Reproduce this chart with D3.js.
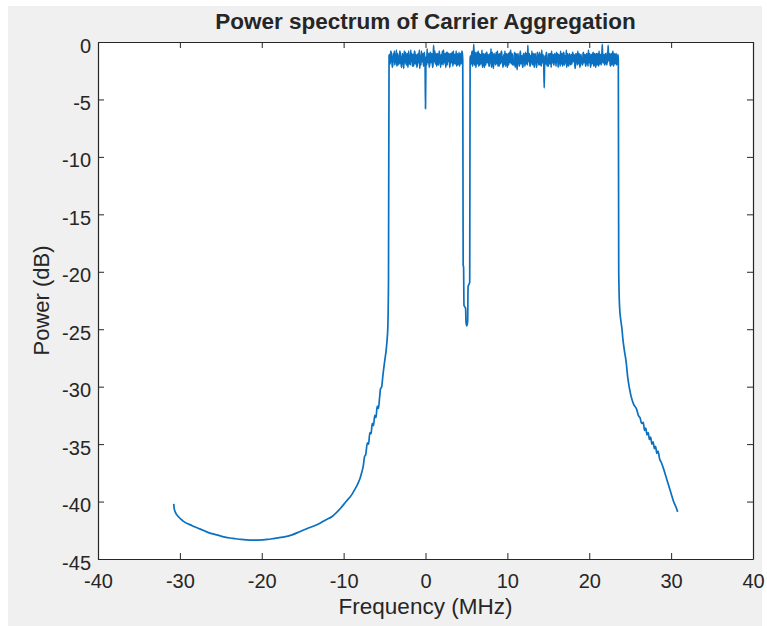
<!DOCTYPE html>
<html lang="en">
<head>
<meta charset="UTF-8">
<title>Power spectrum of Carrier Aggregation</title>
<script src="https://cdn.jsdelivr.net/npm/d3@7"></script>
<style>
  body { margin: 0; background: #fff; }
  text { font-family: "Liberation Sans", Arial, sans-serif; fill: #262626; }
</style>
</head>
<body>
<div id="chart"></div>
<script>
// --- data ---
const xTicks = [-40, -30, -20, -10, 0, 10, 20, 30, 40];
const yTicks = [0, -5, -10, -15, -20, -25, -30, -35, -40, -45];

// lower skirt left of the carriers (MHz, dB)
const leftF = [-30.75, -30.7, -30.5, -30.2, -29.6, -28.5, -27.5, -26.5, -25.5, -24.5, -23.5, -22.5, -21.4, -20.4,
  -19.3, -18.4, -17.4, -16.3, -15.3, -14.3, -13.2, -12.2, -11.4, -10.4, -9.7, -9.0, -8.6, -8.3, -8.0, -7.8, -7.6,
  -7.45, -7.3, -7.1, -6.95, -6.8, -6.65, -6.5, -6.35, -6.2, -6.05, -5.9, -5.75, -5.6, -5.5, -5.35, -5.2, -5.1,
  -4.95, -4.8, -4.7, -4.6, -4.52, -4.45];
const leftP = [-40.2, -40.6, -41.0, -41.3, -41.7, -42.1, -42.4, -42.7, -42.9, -43.1, -43.2, -43.3, -43.35, -43.35,
  -43.3, -43.2, -43.1, -42.9, -42.6, -42.3, -42.0, -41.6, -41.3, -40.6, -40.0, -39.4, -38.9, -38.5, -38.0, -37.5,
  -36.9, -36.1, -35.9, -34.9, -35.0, -34.0, -34.1, -33.2, -33.4, -32.5, -32.7, -31.7, -31.9, -30.9, -30.2, -30.0,
  -29.0, -28.4, -27.6, -26.8, -26.0, -24.8, -20.7, -1.2];

// first carrier, -4.4 .. 4.5 MHz every 0.1 MHz (dB), plus the samples half way between
const band1Start = -4.4;
const band1P = [
  -1.1, -1.9, -0.9, -1.6, -2.0, -1.2, -0.8, -1.7, -1.4, -2.1,
  -1.0, -1.5, -1.9, -0.9, -1.3, -2.2, -1.1, -1.6, -0.8, -1.8,
  -1.3, -2.0, -1.0, -1.5, -1.9, -1.2, -0.7, -1.7, -2.1, -1.1,
  -1.6, -0.9, -1.8, -1.3, -2.0, -1.0, -1.5, -2.3, -1.2, -0.8,
  -1.7, -1.1, -1.9, -1.4, -5.8, -1.3, -0.6, -1.8, -1.2, -2.0,
  -0.9, -1.6, -1.1, -2.1, -0.3, -1.4, -1.9, -1.0, -1.7, -1.2,
  -2.0, -0.8, -1.5, -1.1, -1.9, -1.3, -0.7, -1.8, -1.0, -2.2,
  -1.4, -0.9, -1.6, -1.2, -2.0, -1.0, -1.7, -1.3, -0.8, -1.9,
  -1.1, -1.6, -2.1, -1.0, -1.4, -0.9, -1.8, -1.2, -1.5, -1.0];
const band1Mid = [
  -1.8, -0.8, -1.5, -2.2, -1.0, -1.7, -2.0, -1.1, -0.7, -1.6,
  -2.0, -1.2, -0.8, -1.9, -2.1, -1.0, -1.7, -2.3, -1.3, -0.9,
  -1.9, -1.1, -2.2, -0.8, -1.4, -2.0, -1.6, -1.0, -1.3, -2.1,
  -0.8, -1.9, -1.1, -2.2, -1.2, -1.8, -0.7, -1.4, -2.0, -1.6,
  -1.0, -2.1, -0.9, -1.8, -1.5, -2.0, -1.6, -1.0, -2.2, -0.9,
  -1.8, -1.0, -2.2, -1.3, -1.7, -0.8, -1.2, -2.1, -1.0, -1.9,
  -1.1, -1.8, -2.2, -1.6, -0.8, -2.0, -1.5, -1.1, -1.9, -0.9,
  -2.0, -1.7, -1.0, -2.2, -1.1, -1.8, -0.9, -2.1, -1.6, -1.1,
  -1.9, -0.8, -1.4, -2.0, -1.7, -2.1, -1.0, -1.9, -0.8, -1.6];

// gap between the carriers
const notchF = [4.6, 4.65, 4.7, 4.9, 4.95, 5.05, 5.15, 5.2, 5.3, 5.4, 5.45];
const notchP = [-19.4, -19.6, -22.9, -23.2, -24.4, -24.7, -24.3, -21.3, -21.1, -20.9, -1.4];

// second carrier, 5.5 .. 23.5 MHz every 0.1 MHz (dB), plus the samples half way between
const band2Start = 5.5;
const band2P = [
  -1.2, -1.9, -0.8, -1.5, -0.2, -2.0, -1.1, -1.7, -0.9, -1.4,
  -2.1, -1.0, -1.6, -1.3, -0.7, -1.9, -1.2, -2.2, -1.0, -1.5,
  -0.9, -1.8, -1.3, -2.0, -1.1, -0.6, -1.7, -1.4, -2.3, -1.0,
  -1.6, -1.2, -1.9, -0.8, -1.5, -2.1, -1.1, -1.7, -0.9, -1.3,
  -2.0, -1.4, -0.8, -1.8, -1.2, -2.2, -1.0, -1.6, -1.3, -0.7,
  -1.9, -1.1, -1.5, -2.0, -0.9, -1.7, -1.2, -2.4, -1.0, -1.4,
  -1.8, -0.8, -1.6, -1.2, -2.1, -1.0, -1.5, -0.9, -1.9, -1.3,
  -0.3, -1.7, -1.1, -2.0, -1.4, -0.8, -1.8, -1.2, -2.2, -1.0,
  -1.5, -1.9, -0.9, -1.6, -1.3, -2.0, -1.1, -0.7, -1.7, -1.4,
  -4.0, -1.2, -1.9, -0.9, -1.5, -2.1, -1.0, -1.6, -1.3, -0.8,
  -1.8, -1.2, -2.0, -1.0, -1.5, -0.9, -1.7, -2.2, -1.1, -1.4,
  -0.8, -1.9, -1.3, -1.6, -1.0, -2.0, -1.2, -0.7, -1.8, -1.4,
  -2.1, -1.0, -1.5, -1.1, -1.9, -0.9, -1.6, -1.3, -2.3, -1.0,
  -1.4, -0.8, -1.7, -1.2, -2.0, -1.1, -1.5, -1.9, -0.9, -1.6,
  -1.2, -2.1, -1.0, -1.4, -0.7, -1.8, -1.3, -2.0, -1.1, -1.5,
  -0.9, -1.7, -1.2, -2.2, -1.0, -1.6, -1.4, -0.8, -1.9, -1.1,
  -1.5, -0.2, -1.8, -1.2, -2.0, -1.0, -1.4, -0.9, -0.3, -1.6,
  -1.2, -2.1, -1.0, -1.5, -0.8, -1.9, -1.3, -1.7, -1.0, -1.4,
  -1.1];
const band2Mid = [
  -1.8, -1.0, -2.1, -1.3, -1.7, -0.9, -2.2, -1.2, -1.9, -0.8,
  -1.4, -2.0, -1.1, -1.9, -2.2, -1.0, -1.7, -1.3, -2.0, -0.9,
  -1.7, -1.1, -2.1, -1.0, -1.8, -2.2, -0.9, -1.9, -1.2, -1.7,
  -2.0, -0.9, -1.4, -2.1, -1.1, -1.0, -1.9, -0.8, -1.8, -2.2,
  -1.1, -1.9, -2.1, -1.0, -1.7, -1.2, -2.0, -0.9, -1.8, -1.5,
  -1.0, -2.0, -1.8, -1.1, -2.2, -1.0, -1.9, -1.3, -1.7, -2.1,
  -1.0, -1.9, -1.2, -2.2, -1.0, -1.8, -2.1, -1.7, -1.0, -2.0,
  -1.6, -1.0, -2.1, -1.2, -1.8, -2.0, -1.0, -1.9, -1.1, -1.7,
  -2.2, -1.0, -1.8, -2.0, -0.9, -1.5, -2.1, -1.8, -1.1, -2.0,
  -1.6, -1.9, -1.0, -2.1, -1.8, -1.1, -1.9, -1.0, -2.2, -1.7,
  -1.1, -2.0, -1.0, -1.8, -2.1, -1.7, -1.0, -1.2, -1.9, -2.1,
  -1.8, -1.0, -2.1, -0.9, -1.9, -1.2, -1.8, -2.2, -1.0, -1.9,
  -1.2, -1.9, -2.0, -1.8, -0.9, -1.7, -1.1, -2.1, -1.0, -1.8,
  -2.0, -1.9, -1.0, -2.2, -1.1, -1.8, -2.0, -1.0, -1.8, -1.1,
  -2.0, -1.0, -1.9, -2.1, -1.8, -1.0, -2.2, -1.1, -1.9, -1.0,
  -2.1, -1.0, -1.9, -1.1, -2.0, -1.0, -2.1, -1.9, -1.1, -2.0,
  -1.0, -1.8, -1.1, -2.0, -1.1, -1.9, -2.0, -1.8, -1.1, -1.0,
  -1.9, -1.1, -2.0, -1.0, -2.1, -1.0, -1.9, -1.1, -2.0, -1.8];

// lower skirt right of the carriers
const rightF = [23.55, 23.6, 23.7, 23.85, 24.0, 24.1, 24.3, 24.5, 24.7, 24.9, 25.1, 25.4, 25.8, 26.0, 26.2,
  26.4, 26.6, 26.75, 26.9, 27.05, 27.2, 27.35, 27.5, 27.65, 27.8, 27.95, 28.1, 28.25, 28.4, 28.6, 28.8, 29.1,
  29.4, 29.7, 30.0, 30.3, 30.6, 30.8];
const rightP = [-1.5, -20.0, -23.0, -24.2, -25.0, -25.8, -26.9, -27.8, -29.2, -30.1, -30.8, -31.5, -32.0, -32.5,
  -32.7, -33.2, -33.1, -33.8, -33.6, -34.2, -34.0, -34.6, -34.4, -35.0, -34.8, -35.4, -35.2, -35.8, -35.6, -36.3,
  -36.6, -37.2, -37.9, -38.6, -39.3, -40.0, -40.5, -40.9];

// --- build one trace ---
const trace = [];
leftF.forEach((f, i) => trace.push([f, leftP[i]]));
band1P.forEach((p, i) => {
  trace.push([band1Start + i * 0.1, p]);
  trace.push([band1Start + i * 0.1 + 0.05, band1Mid[i]]);
});
notchF.forEach((f, i) => trace.push([f, notchP[i]]));
band2P.forEach((p, i) => {
  trace.push([band2Start + i * 0.1, p]);
  if (i < band2Mid.length) trace.push([band2Start + i * 0.1 + 0.05, band2Mid[i]]);
});
rightF.forEach((f, i) => trace.push([f, rightP[i]]));

// --- drawing ---
const W = 767, H = 626;
const plot = { left: 98, right: 753, top: 42, bottom: 559 };

const svg = d3.select("#chart").append("svg")
  .attr("width", W).attr("height", H);

svg.append("rect").attr("x", 8).attr("y", 6)
  .attr("width", W - 13).attr("height", H - 6).attr("fill", "#f0f0f0");

svg.append("rect")
  .attr("x", plot.left).attr("y", plot.top)
  .attr("width", plot.right - plot.left).attr("height", plot.bottom - plot.top)
  .attr("fill", "#fff");

const x = d3.scaleLinear().domain([-40, 40]).range([plot.left, plot.right]);
const y = d3.scaleLinear().domain([-45, 0]).range([plot.bottom, plot.top]);

svg.append("defs").append("clipPath").attr("id", "clip")
  .append("rect")
  .attr("x", plot.left).attr("y", plot.top - 1)
  .attr("width", plot.right - plot.left).attr("height", plot.bottom - plot.top + 1);

const line = d3.line().curve(d3.curveMonotoneX).x(d => x(d[0])).y(d => y(d[1]));

svg.append("path")
  .datum(trace)
  .attr("clip-path", "url(#clip)")
  .attr("d", line)
  .attr("fill", "none")
  .attr("stroke", "#0a70bf")
  .attr("stroke-width", 1.7)
  .attr("stroke-linejoin", "round");

// axes, MATLAB style with ticks inside on all four sides
const tickLen = 6;
const fmt = d => String(d);
const styleAxis = g => {
  g.select(".domain").attr("stroke", "#262626").attr("stroke-width", 1.2);
  g.selectAll(".tick line").attr("stroke", "#262626");
  g.selectAll(".tick text").attr("font-size", "20px").attr("fill", "#262626")
    .attr("font-family", "'Liberation Sans', Arial, sans-serif");
};

svg.append("g").attr("transform", `translate(0,${plot.bottom})`)
  .call(d3.axisBottom(x).tickValues(xTicks).tickSizeInner(-tickLen).tickSizeOuter(0).tickPadding(15)
    .tickFormat(fmt))
  .call(styleAxis);

svg.append("g").attr("transform", `translate(0,${plot.top})`)
  .call(d3.axisTop(x).tickValues(xTicks).tickSizeInner(-tickLen).tickSizeOuter(0).tickFormat(""))
  .call(styleAxis);

svg.append("g").attr("transform", `translate(${plot.left},0)`)
  .call(d3.axisLeft(y).tickValues(yTicks).tickSizeInner(-tickLen).tickSizeOuter(0).tickPadding(7)
    .tickFormat(fmt))
  .call(styleAxis)
  .selectAll(".tick text").attr("dy", "0.5em");

svg.append("g").attr("transform", `translate(${plot.right},0)`)
  .call(d3.axisRight(y).tickValues(yTicks).tickSizeInner(-tickLen).tickSizeOuter(0).tickFormat(""))
  .call(styleAxis);

// labels
svg.append("text")
  .attr("x", (plot.left + plot.right) / 2).attr("y", 29)
  .attr("text-anchor", "middle")
  .attr("font-size", "22.5px").attr("font-weight", "bold")
  .attr("fill", "#000")
  .text("Power spectrum of Carrier Aggregation");

svg.append("text")
  .attr("x", (plot.left + plot.right) / 2).attr("y", 614)
  .attr("text-anchor", "middle")
  .attr("font-size", "22.5px")
  .text("Frequency (MHz)");

svg.append("text")
  .attr("transform", `translate(49,${(plot.top + plot.bottom) / 2}) rotate(-90)`)
  .attr("text-anchor", "middle")
  .attr("font-size", "22px")
  .text("Power (dB)");
</script>
</body>
</html>
